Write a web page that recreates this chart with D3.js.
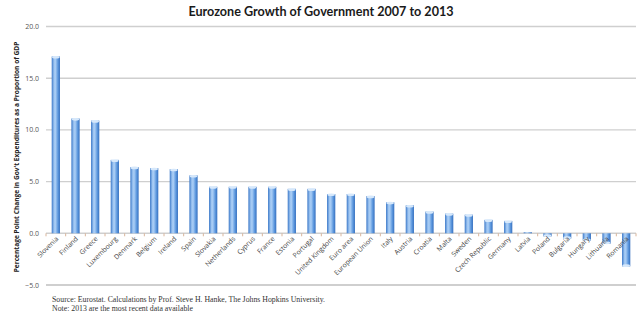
<!DOCTYPE html>
<html>
<head>
<meta charset="utf-8">
<script src="https://cdn.jsdelivr.net/npm/d3@7"></script>
<style>
  body { margin: 0; background: #fff; }
  svg { display: block; }
</style>
</head>
<body>
<div id="chart"></div>
<script>
// countries, sorted by change in spending share
const countries = ['Slovenia', 'Finland', 'Greece', 'Luxembourg', 'Denmark', 'Belgium', 'Ireland', 'Spain',
  'Slovakia', 'Netherlands', 'Cyprus', 'France', 'Estonia', 'Portugal', 'United Kingdom', 'Euro area',
  'European Union', 'Italy', 'Austria', 'Croatia', 'Malta', 'Sweden', 'Czech Republic', 'Germany',
  'Latvia', 'Poland', 'Bulgaria', 'Hungary', 'Lithuania', 'Romania'];
const changes = [17.1, 11.1, 10.9, 7.1, 6.4, 6.3, 6.2, 5.6,
  4.5, 4.5, 4.5, 4.5, 4.3, 4.3, 3.8, 3.8,
  3.6, 3.0, 2.7, 2.1, 1.9, 1.8, 1.3, 1.2,
  0.1, -0.3, -0.5, -0.7, -1.0, -3.2];
const yTicks = [-5, 0, 5, 10, 15, 20];

const width = 640;
const height = 336;
const margin = { top: 26.5, left: 46, right: 4, bottom: 51 };

const svg = d3.select('#chart')
  .append('svg')
  .attr('width', width)
  .attr('height', height);

// bar shading, darker at the edges like a cylinder
const defs = svg.append('defs');
const grad = defs.append('linearGradient')
  .attr('id', 'barFill')
  .attr('x1', '0%').attr('x2', '100%').attr('y1', '0%').attr('y2', '0%');
[[0, '#3b78c8'], [0.3, '#9fc6f2'], [0.45, '#a9cdf5'], [0.75, '#5d98de'], [1, '#3670bf']]
  .forEach(s => grad.append('stop').attr('offset', s[0]).attr('stop-color', s[1]));

const x = d3.scaleBand()
  .domain(countries)
  .range([margin.left, width - margin.right])
  .paddingInner(0.58)
  .paddingOuter(0.29);

const y = d3.scaleLinear()
  .domain([-5, 20])
  .range([height - margin.bottom, margin.top]);

// title
svg.append('text')
  .attr('x', 321)
  .attr('y', 15.5)
  .attr('text-anchor', 'middle')
  .style('font-family', 'Lato, "Open Sans", sans-serif')
  .style('font-size', '12.6px')
  .style('font-weight', 'bold')
  .style('fill', '#1a1a1a')
  .text('Eurozone Growth of Government 2007 to 2013');

// horizontal gridlines
svg.append('g')
  .selectAll('line')
  .data(yTicks)
  .join('line')
  .attr('x1', margin.left)
  .attr('x2', width - margin.right)
  .attr('y1', d => y(d))
  .attr('y2', d => y(d))
  .attr('stroke', '#cfcfcf')
  .attr('stroke-width', d => d === -5 ? 2 : 1.4);

// y tick labels
svg.append('g')
  .selectAll('text')
  .data(yTicks)
  .join('text')
  .attr('x', 39)
  .attr('y', d => y(d) + 2.5)
  .attr('text-anchor', 'end')
  .style('font-family', '"Open Sans", sans-serif')
  .style('font-size', '7px')
  .style('fill', '#555')
  .text(d => d3.format('.1f')(d));

// y axis title
svg.append('text')
  .attr('transform', 'translate(19,157) rotate(-90)')
  .attr('text-anchor', 'middle')
  .style('font-family', '"Open Sans", sans-serif')
  .style('font-size', '6.6px')
  .style('font-weight', 'bold')
  .style('fill', '#222')
  .text("Percentage Point Change in Gov't Expenditures as a Proportion of GDP");

// small ticks between categories on the zero line
const step = x.step();
svg.append('g')
  .selectAll('line')
  .data(d3.range(countries.length + 1))
  .join('line')
  .attr('x1', i => margin.left + i * step)
  .attr('x2', i => margin.left + i * step)
  .attr('y1', y(0))
  .attr('y2', y(0) + 3)
  .attr('stroke', '#d9b59a')
  .attr('stroke-width', 1);

// bars
const bars = svg.append('g')
  .selectAll('g')
  .data(countries.map((c, i) => ({ name: c, value: changes[i] })))
  .join('g');

bars.append('rect')
  .attr('x', d => x(d.name))
  .attr('width', x.bandwidth())
  .attr('y', d => y(Math.max(0, d.value)))
  .attr('height', d => Math.abs(y(d.value) - y(0)))
  .attr('fill', 'url(#barFill)');

// light cap at the end of each bar
bars.filter(d => Math.abs(d.value) > 0.2)
  .append('ellipse')
  .attr('cx', d => x(d.name) + x.bandwidth() / 2)
  .attr('cy', d => y(d.value) + (d.value > 0 ? 0.8 : -0.8))
  .attr('rx', x.bandwidth() / 2 - 0.3)
  .attr('ry', 1.3)
  .attr('fill', '#d6e8fb');

// rotated category labels
svg.append('g')
  .selectAll('text')
  .data(countries)
  .join('text')
  .attr('transform', d => `translate(${x(d) + x.bandwidth() / 2 + 3},${y(0) + 6}) rotate(-45)`)
  .attr('text-anchor', 'end')
  .style('font-family', '"Open Sans", sans-serif')
  .style('font-size', '6.8px')
  .style('fill', '#444')
  .text(d => d);

// source notes
const notes = ['Source: Eurostat. Calculations by Prof. Steve H. Hanke, The Johns Hopkins University.',
  'Note: 2013 are the most recent data available'];
svg.append('g')
  .selectAll('text')
  .data(notes)
  .join('text')
  .attr('x', 52)
  .attr('y', (d, i) => 302 + i * 9)
  .style('font-family', '"Liberation Serif", "Times New Roman", serif')
  .style('font-size', '7.8px')
  .style('fill', '#333')
  .text(d => d);
</script>
</body>
</html>
